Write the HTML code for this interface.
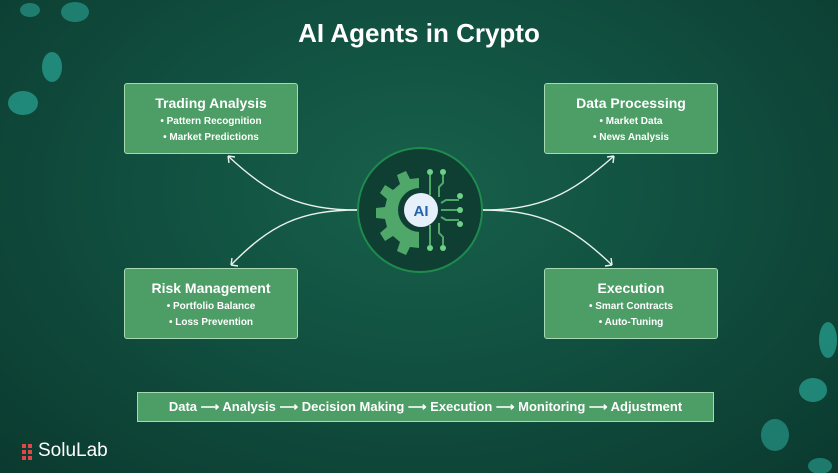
<!DOCTYPE html>
<html><head><style>
body{margin:0;width:838px;height:473px;overflow:hidden;font-family:"Liberation Sans",sans-serif;}
.bg{position:absolute;left:0;top:0;width:838px;height:473px;background:radial-gradient(ellipse at 50% 40%,#17604a 0%,#115040 45%,#0b3a2f 100%);}
.box{position:absolute;width:174px;height:71px;background:#4c9d66;border:1.5px solid #a9d9b3;border-radius:3px;color:#fff;text-align:center;box-sizing:border-box;}
.box h3{margin:11px 0 3px;font-size:14px;font-weight:bold;}
.box div{font-size:10px;font-weight:bold;line-height:16px;}
.title{position:absolute;top:18px;width:838px;text-align:center;color:#fff;font-size:26px;font-weight:bold;}
.bar{position:absolute;left:137px;top:392px;width:577px;height:30px;background:#4c9d66;border:1.5px solid #a9d9b3;box-sizing:border-box;color:#fff;font-size:13px;font-weight:bold;text-align:center;line-height:27px;}
.logo{position:absolute;left:22px;top:440px;color:#fff;font-size:19px;}
</style></head><body>
<div class="bg"></div>
<svg width="838" height="473" style="position:absolute;left:0;top:0">
<ellipse cx="23" cy="103" rx="15" ry="12" fill="#2aa596" opacity=".7"/>
<ellipse cx="52" cy="67" rx="10" ry="15" fill="#2aa596" opacity=".7"/>
<ellipse cx="75" cy="12" rx="14" ry="10" fill="#2aa596" opacity=".6"/>
<ellipse cx="30" cy="10" rx="10" ry="7" fill="#2aa596" opacity=".6"/>
<ellipse cx="828" cy="340" rx="9" ry="18" fill="#2aa596" opacity=".7"/>
<ellipse cx="813" cy="390" rx="14" ry="12" fill="#2aa596" opacity=".7"/>
<ellipse cx="775" cy="435" rx="14" ry="16" fill="#2aa596" opacity=".6"/>
<ellipse cx="820" cy="466" rx="12" ry="8" fill="#2aa596" opacity=".6"/>
<g fill="none" stroke="#e8f2ea" stroke-width="1.4">
<path d="M358 210 C300 210 270 195 228 156"/>
<path d="M358 210 C300 210 270 225 231 265"/>
<path d="M482 210 C540 210 570 195 614 156"/>
<path d="M482 210 C540 210 570 225 612 265"/>
<path d="M228 156 l1 7 M228 156 l7 1"/>
<path d="M231 265 l1 -7 M231 265 l7 1"/>
<path d="M614 156 l-1 7 M614 156 l-7 1"/>
<path d="M612 265 l-1 -7 M612 265 l-7 1"/>
</g>
<circle cx="420" cy="210" r="62" fill="#0f3f33" stroke="#1f8a4e" stroke-width="2"/>
<g fill="#4fa869">
<path d="M419 168 l0 10 l-9 1 l-4 -8 l-9 4 l3 9 l-7 6 l-8 -5 l-5 8 l7 6 l-2 8 l-9 1 l0 10 l9 1 l2 8 l-7 6 l5 8 l8 -5 l7 6 l-3 9 l9 4 l4 -8 l9 1 l0 10 z" />
</g>
<circle cx="420" cy="210" r="22" fill="#0f3f33"/>
<circle cx="421" cy="210" r="17" fill="#e6f0fa"/>
<text x="421" y="216" text-anchor="middle" font-size="15" font-weight="bold" fill="#2563b0" font-family="Liberation Sans">AI</text>
<g stroke="#4fa869" stroke-width="2" fill="none">
<path d="M430 175 v20"/><path d="M443 175 v8 l-4 4 v10"/>
<path d="M443 245 v-8 l-4 -4 v-10"/><path d="M430 245 v-20"/>
<path d="M441 210 h18"/><path d="M441 203 l5 -3 h13"/><path d="M441 217 l5 3 h13"/>
</g>
<g fill="#6fd08a">
<circle cx="430" cy="172" r="3"/><circle cx="443" cy="172" r="3"/>
<circle cx="430" cy="248" r="3"/><circle cx="443" cy="248" r="3"/>
<circle cx="460" cy="196" r="3"/><circle cx="460" cy="210" r="3"/><circle cx="460" cy="224" r="3"/>
</g>
<g fill="#e04848"><rect x="22" y="444" width="4" height="4"/><rect x="28" y="444" width="4" height="4"/><rect x="22" y="450" width="4" height="4"/><rect x="28" y="450" width="4" height="4"/><rect x="22" y="456" width="4" height="4"/><rect x="28" y="456" width="4" height="4"/></g>
</svg>
<div class="title">AI Agents in Crypto</div>
<div class="box" style="left:124px;top:83px"><h3>Trading Analysis</h3><div>• Pattern Recognition</div><div>• Market Predictions</div></div>
<div class="box" style="left:544px;top:83px"><h3>Data Processing</h3><div>• Market Data</div><div>• News Analysis</div></div>
<div class="box" style="left:124px;top:268px"><h3>Risk Management</h3><div>• Portfolio Balance</div><div>• Loss Prevention</div></div>
<div class="box" style="left:544px;top:268px"><h3>Execution</h3><div>• Smart Contracts</div><div>• Auto-Tuning</div></div>
<div class="bar">Data ⟶ Analysis ⟶ Decision Making ⟶ Execution ⟶ Monitoring ⟶ Adjustment</div>
<div class="logo"><span style="margin-left:16px">SoluLab</span></div>
</body></html>
